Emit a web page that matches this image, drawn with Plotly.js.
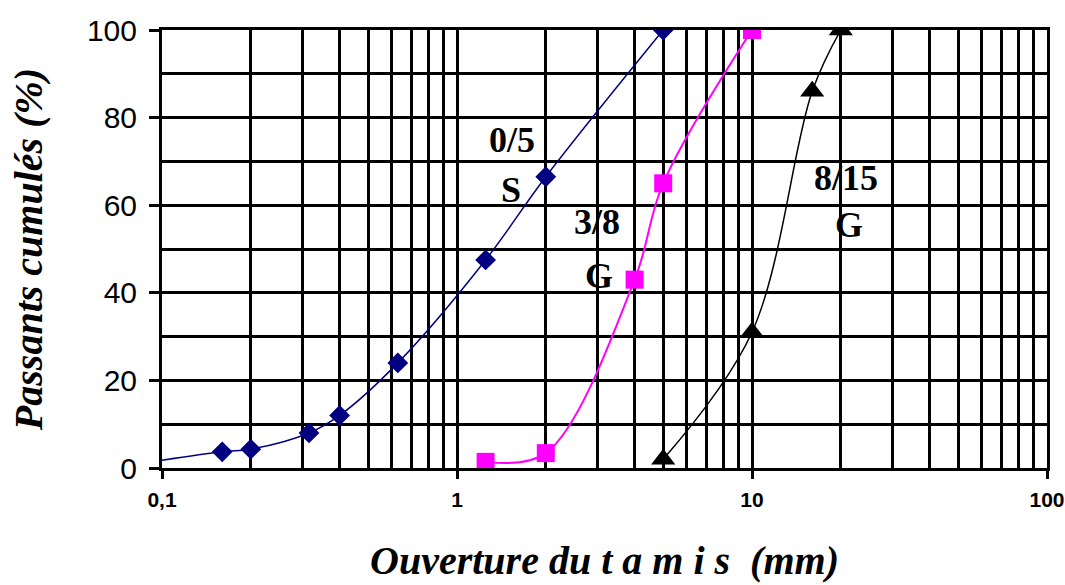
<!DOCTYPE html>
<html>
<head>
<meta charset="utf-8">
<script src="https://cdn.plot.ly/plotly-3.0.1.min.js"></script>
<style>
  html, body { margin: 0; padding: 0; background: #ffffff; }
  #chart { width: 1065px; height: 585px; }
</style>
</head>
<body>
<div id="chart"></div>
<script>
// Sieve openings (mm) and cumulative passing (%) for each aggregate
const sable05X = [0.08, 0.16, 0.2, 0.315, 0.4, 0.63, 1.25, 2, 5];
const sable05Y = [0.8, 3.7, 4.3, 8, 12, 24, 47.5, 66.5, 100];

const gravillon38X = [1.25, 2, 4, 5, 10];
const gravillon38Y = [1.4, 3.4, 43, 65, 100];

const gravillon815X = [5, 10, 16, 20];
const gravillon815Y = [2, 31, 86, 100];

const xTickVals = [0.1, 1, 10, 100];
const xTickText = ['0,1', '1', '10', '100'];
const yTickVals = [0, 20, 40, 60, 80, 100];

const gridStyle = { gridcolor: '#000000', gridwidth: 3 };

const traces = [
  {
    x: sable05X, y: sable05Y, type: 'scatter', mode: 'lines+markers',
    line: { color: '#000080', width: 1.5, shape: 'spline', smoothing: 1 },
    marker: { symbol: 'diamond', size: 16, color: '#000080' },
    name: '0/5 S'
  },
  {
    x: gravillon38X, y: gravillon38Y, type: 'scatter', mode: 'lines+markers',
    line: { color: '#ff00ff', width: 2, shape: 'spline', smoothing: 1 },
    marker: { symbol: 'square', size: 18, color: '#ff00ff' },
    name: '3/8 G'
  },
  {
    x: gravillon815X, y: gravillon815Y, type: 'scatter', mode: 'lines+markers',
    line: { color: '#000000', width: 1.5, shape: 'spline', smoothing: 1 },
    marker: { symbol: 'triangle-up', size: 21, color: '#000000' },
    name: '8/15 G'
  }
];

const labelFont = { family: 'Liberation Serif, Times New Roman, serif', size: 36, color: '#000000' };
function curveLabel(text, x, y) {
  return {
    text: '<b>' + text + '</b>', xref: 'paper', yref: 'paper', x: x, y: y,
    xanchor: 'center', yanchor: 'middle', showarrow: false, font: labelFont
  };
}

const layout = {
  width: 1065, height: 585,
  margin: { l: 162, r: 18, t: 30, b: 117 },
  paper_bgcolor: '#ffffff', plot_bgcolor: '#ffffff',
  showlegend: false,
  xaxis: Object.assign({
    type: 'log',
    range: [-1, 2],
    tickmode: 'array', tickvals: xTickVals, ticktext: xTickText,
    ticks: 'outside', ticklen: 8, tickwidth: 3, tickcolor: '#000000',
    ticklabelstandoff: 3,
    tickfont: { family: 'Liberation Sans, Arial, sans-serif', size: 21, color: '#000000', weight: 'bold' },
    showgrid: true,
    minor: { dtick: 'D1', showgrid: true, gridcolor: '#000000', gridwidth: 3, ticks: '' },
    showline: true, linecolor: '#000000', linewidth: 3, mirror: true,
    zeroline: false,
    title: {
      text: '<b><i>Ouverture du t a m i s \u00a0(mm)</i></b>',
      font: { family: 'Liberation Serif, Times New Roman, serif', size: 40, color: '#000000' },
      standoff: 36
    }
  }, gridStyle),
  yaxis: Object.assign({
    range: [0, 100],
    tickmode: 'array', tickvals: yTickVals,
    ticks: 'outside', ticklen: 10, tickwidth: 3, tickcolor: '#000000',
    ticklabelstandoff: 6,
    tickfont: { family: 'Liberation Sans, Arial, sans-serif', size: 30, color: '#000000' },
    showgrid: true,
    minor: { dtick: 10, showgrid: true, gridcolor: '#000000', gridwidth: 3, ticks: '' },
    showline: true, linecolor: '#000000', linewidth: 3, mirror: true,
    zeroline: false,
    title: {
      text: '<b><i>Passants cumulés (%)</i></b>',
      font: { family: 'Liberation Serif, Times New Roman, serif', size: 40, color: '#000000' },
      standoff: 32
    }
  }, gridStyle),
  annotations: [
    curveLabel('0/5', 0.3955, 0.749),
    curveLabel('S', 0.394, 0.635),
    curveLabel('3/8', 0.4915, 0.5616),
    curveLabel('G', 0.494, 0.438),
    curveLabel('8/15', 0.773, 0.662),
    curveLabel('G', 0.776, 0.555)
  ]
};

Plotly.newPlot('chart', traces, layout, { displayModeBar: false, staticPlot: true });
</script>
</body>
</html>
